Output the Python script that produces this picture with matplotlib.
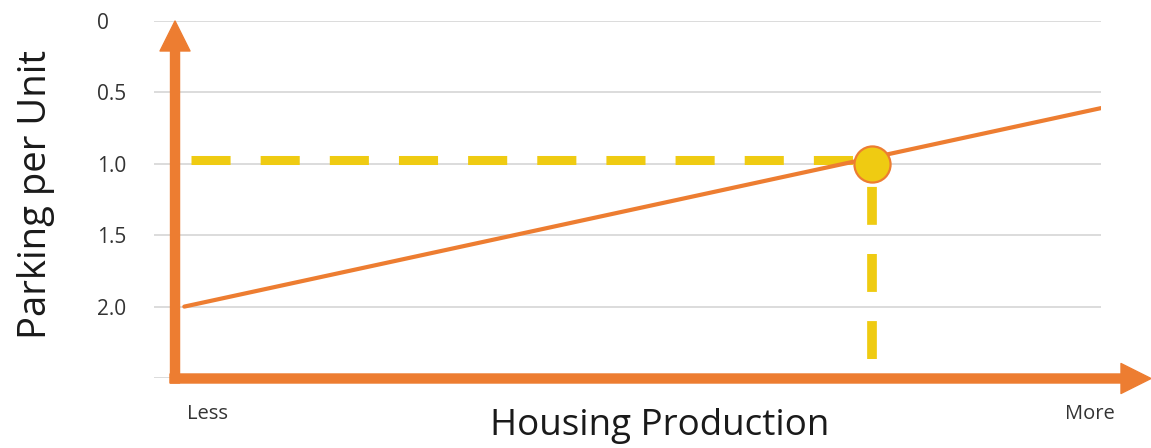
import matplotlib
matplotlib.use('Agg')
import matplotlib.pyplot as plt
from matplotlib.patches import FancyArrowPatch

plt.rcParams['font.family'] = ['Open Sans', 'DejaVu Sans']

# values
grid_ticks = [0, 0.5, 1.0, 1.5, 2.0, 2.5]
grid_labels = ['0', '0.5', '1.0', '1.5', '2.0', '']
x_tick_pos = [0.057, 0.988]
x_tick_labels = ['Less', 'More']
line_x = [0.032, 1.0]
line_y = [2.0, 0.61]
point_x = 0.758
point_y = 1.0
guide_y = 0.97
guide_x_start = 0.039
guide_y_end = 2.37

orange = '#ED7D31'
yellow = '#EFCB12'

fig = plt.figure(figsize=(11.51, 4.48), dpi=100)
ax = fig.add_axes([154/1151, 1-378/448, 947/1151, 357/448])
ax.set_xlim(0, 1)
ax.set_ylim(2.5, 0)

for s in ax.spines.values():
    s.set_visible(False)

ax.set_yticks(grid_ticks, grid_labels)
ax.grid(axis='y', color='#D9D9D9', lw=1.3)
ax.set_axisbelow(True)
ax.tick_params(axis='y', length=0, pad=41, labelsize=15, labelcolor='#333333')
for lbl in ax.get_yticklabels():
    lbl.set_horizontalalignment('left')

ax.set_xticks(x_tick_pos, x_tick_labels)
ax.tick_params(axis='x', length=0, pad=19, labelsize=14.5, labelcolor='#333333')

# dashed guides
ax.plot([guide_x_start, point_x], [guide_y, guide_y], color=yellow, lw=6.5,
        dashes=(4.33, 3.33), dash_capstyle='butt', zorder=3)
ax.plot([point_x, point_x], [guide_y_end, guide_y], color=yellow, lw=7,
        dashes=(3.9, 3.0), dash_capstyle='butt', zorder=3)

# main line and point
ax.plot(line_x, line_y, color=orange, lw=3, solid_capstyle='round', zorder=4)
ax.plot(point_x, point_y, 'o', ms=26, mfc=yellow, mec=orange, mew=1.6, zorder=5)

# axis arrows
style = 'simple,head_width=21.6,head_length=21.6,tail_width=6.5'
ax.add_patch(FancyArrowPatch((0.0222, -0.014), (0.0222, 1.0), transform=ax.transAxes,
                             arrowstyle=style, mutation_scale=1, color=orange,
                             shrinkA=0, shrinkB=0, clip_on=False, zorder=6))
ax.add_patch(FancyArrowPatch((0.0169, -0.0014), (1.0528, -0.0014), transform=ax.transAxes,
                             arrowstyle=style, mutation_scale=1, color=orange,
                             shrinkA=0, shrinkB=0, clip_on=False, zorder=6))

ax.set_xlabel('Housing Production', fontsize=26.5, color='#1a1a1a', va='center')
ax.xaxis.set_label_coords((660-154)/947, (378-426)/357)
ax.set_ylabel('Parking per Unit', fontsize=27.5, color='#1a1a1a', va='center')
ax.yaxis.set_label_coords((36-154)/947, (378-194)/357)

fig.savefig('out.png', dpi=100)
